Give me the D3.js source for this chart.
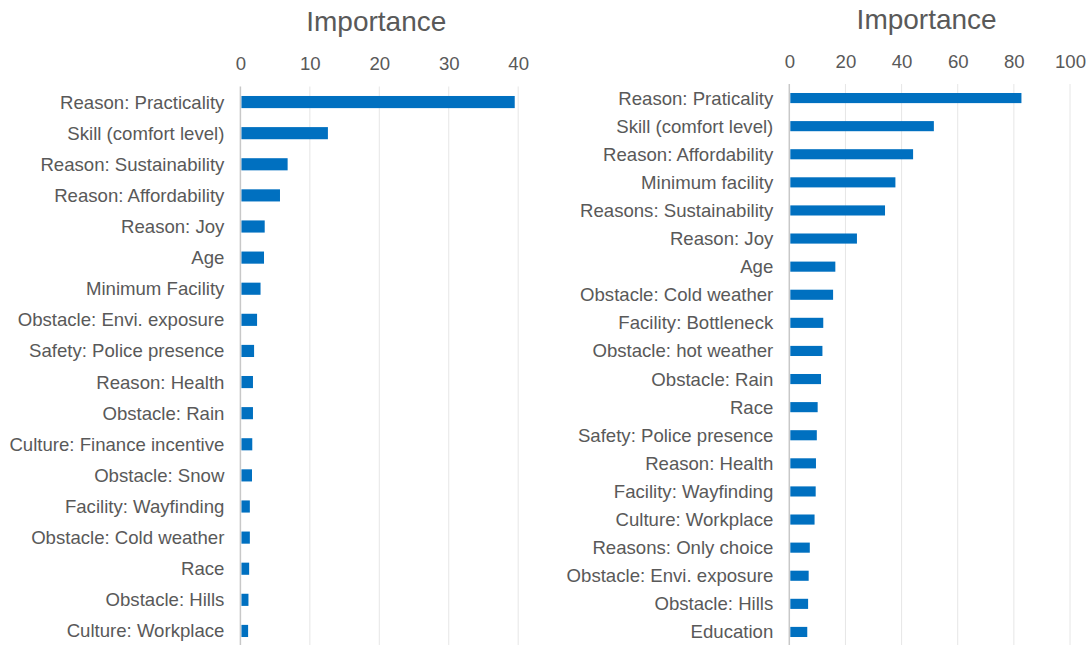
<!DOCTYPE html>
<html>
<head>
<meta charset="utf-8">
<script src="https://cdn.jsdelivr.net/npm/d3@7"></script>
<style>
  body { margin: 0; background: #fff; }
  svg text { font-family: "Liberation Sans", Arial, sans-serif; fill: #595959; }
</style>
</head>
<body>
<svg id="chart" width="1089" height="645"></svg>
<script>
// left panel
var leftCategories = ["Reason: Practicality", "Skill (comfort level)", "Reason: Sustainability",
  "Reason: Affordability", "Reason: Joy", "Age", "Minimum Facility", "Obstacle: Envi. exposure",
  "Safety: Police presence", "Reason: Health", "Obstacle: Rain", "Culture: Finance incentive",
  "Obstacle: Snow", "Facility: Wayfinding", "Obstacle: Cold weather", "Race", "Obstacle: Hills",
  "Culture: Workplace"];
var leftValues = [39.5, 12.6, 6.8, 5.7, 3.5, 3.4, 2.9, 2.4, 1.97, 1.81, 1.81, 1.71, 1.67, 1.36, 1.36, 1.26, 1.16, 1.11];
var leftTicks = [0, 10, 20, 30, 40];

// right panel
var rightCategories = ["Reason: Praticality", "Skill (comfort level)", "Reason: Affordability",
  "Minimum facility", "Reasons: Sustainability", "Reason: Joy", "Age", "Obstacle: Cold weather",
  "Facility: Bottleneck", "Obstacle: hot weather", "Obstacle: Rain", "Race", "Safety: Police presence",
  "Reason: Health", "Facility: Wayfinding", "Culture: Workplace", "Reasons: Only choice",
  "Obstacle: Envi. exposure", "Obstacle: Hills", "Education"];
var rightValues = [82.7, 51.5, 44.1, 37.8, 34.1, 24.1, 16.4, 15.6, 12.1, 11.8, 11.3, 10.1, 9.8, 9.5, 9.4, 9.0, 7.3, 6.9, 6.7, 6.4];
var rightTicks = [0, 20, 40, 60, 80, 100];

var svg = d3.select("#chart");

function drawPanel(cats, vals, ticks, x0, x1, top, bottom, pad, titleY, tickY){
  var g = svg.append("g");
  var x = d3.scaleLinear()
    .domain([0, d3.max(ticks)])
    .range([x0, x1]);
  // outer padding half of inner so the step is range/n
  var y = d3.scaleBand()
    .domain(cats)
    .range([top, bottom])
    .paddingInner(pad)
    .paddingOuter(pad / 2);

  // gridlines
  g.selectAll(".grid")
    .data(ticks.slice(1))
    .enter()
    .append("line")
    .attr("class", "grid")
    .attr("x1", function(d){ return x(d); })
    .attr("x2", function(d){ return x(d); })
    .attr("y1", top)
    .attr("y2", bottom)
    .attr("stroke", "#e6e6e6")
    .attr("stroke-width", 1);

  // bars
  g.selectAll("rect")
    .data(vals)
    .enter()
    .append("rect")
    .attr("x", x(0) + 1)
    .attr("y", function(d, i){ return y(cats[i]); })
    .attr("width", function(d){ return x(d) - x(0) - 1; })
    .attr("height", y.bandwidth())
    .attr("fill", "#0070C0");

  // axis line
  g.append("line")
    .attr("x1", x(0)).attr("x2", x(0))
    .attr("y1", top).attr("y2", bottom)
    .attr("stroke", "#c8c8c8")
    .attr("stroke-width", 1.5);

  // top axis labels
  var axis = d3.axisTop(x).tickValues(ticks).tickSize(0).tickPadding(0);
  var ag = g.append("g")
    .attr("transform", "translate(0," + tickY + ")")
    .call(axis);
  ag.select(".domain").remove();
  ag.selectAll("text")
    .attr("font-size", "18.6px")
    .attr("font-family", "Liberation Sans, Arial, sans-serif")
    .style("fill", "#595959");

  // category labels
  g.selectAll(".label")
    .data(cats)
    .enter()
    .append("text")
    .attr("class", "label")
    .attr("x", x0 - 16)
    .attr("y", function(d){ return y(d) + y.bandwidth() / 2; })
    .attr("dy", ".35em")
    .attr("text-anchor", "end")
    .attr("font-size", "18.6px")
    .text(String);

  // title
  g.append("text")
    .attr("x", (x0 + x1) / 2 - 3)
    .attr("y", titleY)
    .attr("text-anchor", "middle")
    .attr("font-size", "28px")
    .text("Importance");
}

drawPanel(leftCategories, leftValues, leftTicks, 240.4, 518.2, 86.5, 646.5, 0.61, 31, 70);
drawPanel(rightCategories, rightValues, rightTicks, 789.3, 1070, 84, 646, 0.64, 29, 68);
</script>
</body>
</html>
